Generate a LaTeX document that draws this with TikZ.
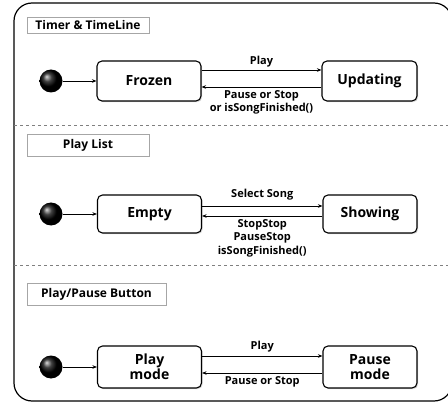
\documentclass[tikz,border=0pt]{standalone}
\usepackage{fontspec}
\setmainfont{Open Sans}
\usepackage{tikz}
\usetikzlibrary{arrows.meta,shadows}

\begin{document}
\begin{tikzpicture}[x=1pt,y=-1pt,
  >={Stealth[length=4.5pt,width=3.5pt]},
  state/.style={draw,line width=1.1pt,rounded corners=5pt,fill=white,
    drop shadow={shadow xshift=1.2pt,shadow yshift=-1.2pt,opacity=0.3},
    minimum width=104pt,minimum height=40pt,inner sep=1pt,align=center,
    font=\bfseries\fontsize{14}{15}\selectfont},
  titlebox/.style={draw=gray!70,line width=0.6pt,fill=white,minimum width=122pt,
    minimum height=22pt,inner sep=0pt,font=\bfseries\fontsize{12}{14}\selectfont},
  initial/.style={circle,ball color=black,minimum size=23pt,inner sep=0pt},
  lbl/.style={font=\bfseries\fontsize{11}{13.5}\selectfont,align=center,inner sep=2pt},
  trans/.style={->,line width=0.8pt}]
\useasboundingbox (0,0) rectangle (448,404);
% frame and separators
\draw[line width=1.2pt,rounded corners=18pt] (14,3) rectangle (452,401);
\draw[gray,dashed] (14,125) -- (448,125);
\draw[gray,dashed] (14,265) -- (448,265);

% Timer & TimeLine
\node[titlebox,minimum height=16pt] (t1) at (88,25) {Timer \& TimeLine};
\node[initial] (s1) at (51,81) {};
\node[state] (v1) at (149,81) {Frozen};
\node[state,minimum width=95pt] (v2) at (369.5,81) {Updating};
\draw[trans] (s1) -- (v1);
\draw[trans] ([yshift=11pt]v1.east) -- node[lbl,above=0pt] {Play} ([yshift=11pt]v2.west);
\draw[trans] ([yshift=-6pt]v2.west) -- node[lbl,below=1pt] {Pause or Stop\\or isSongFinished()} ([yshift=-6pt]v1.east);

% Play List
\node[titlebox] (t2) at (88,145) {Play List};
\node[initial] (s2) at (51,214) {};
\node[state,minimum height=38pt] (v3) at (149.5,214) {Empty};
\node[state,minimum width=94pt,minimum height=38pt] (v4) at (370,214) {Showing};
\draw[trans] (s2) -- (v3);
\draw[trans] ([yshift=8pt]v3.east) -- node[lbl,above=3pt] {Select Song} ([yshift=8pt]v4.west);
\draw[trans] ([yshift=-2pt]v4.west) -- node[lbl,below=1pt] {StopStop\\PauseStop\\isSongFinished()} ([yshift=-2pt]v3.east);

% Play/Pause Button
\node[titlebox,minimum width=139pt] (t3) at (96.5,294) {Play/Pause Button};
\node[initial] (s3) at (51,367) {};
\node[state,minimum height=42pt] (v5) at (149.5,367) {Play\\mode};
\node[state,minimum width=94pt,minimum height=42pt] (v6) at (370,367) {Pause\\mode};
\draw[trans] (s3) -- (v5);
\draw[trans] ([yshift=11pt]v5.east) -- node[lbl,above=1pt] {Play} ([yshift=11pt]v6.west);
\draw[trans] ([yshift=-6pt]v6.west) -- node[lbl,below=1pt] {Pause or Stop} ([yshift=-6pt]v5.east);
\end{tikzpicture}
\end{document}
